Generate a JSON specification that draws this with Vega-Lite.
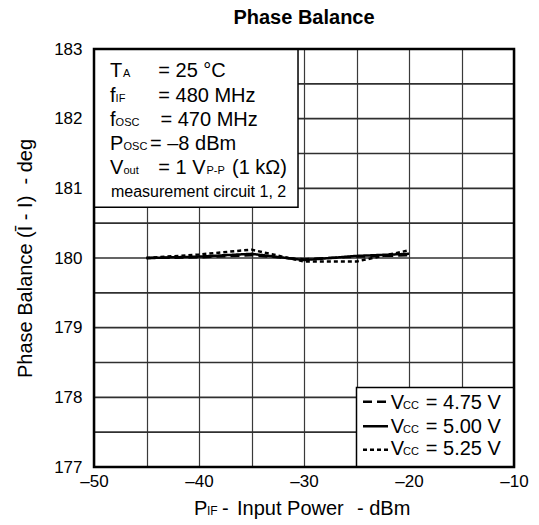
{
  "$schema": "https://vega.github.io/schema/vega-lite/v6.json",
  "width": 420,
  "height": 418,
  "autosize": {"type": "none"},
  "padding": {"left": 94, "top": 49, "right": 25, "bottom": 58},
  "title": {
    "text": "Phase Balance",
    "font": "Liberation Sans",
    "fontSize": 20,
    "fontWeight": "bold",
    "anchor": "middle",
    "offset": 12,
    "color": "black"
  },
  "config": {
    "view": {"stroke": null},
    "font": "Liberation Sans",
    "text": {"font": "Liberation Sans", "color": "black"},
    "axis": {
      "gridColor": "#3a3a3a",
      "gridWidth": 1.2,
      "gridOpacity": 1,
      "ticks": false,
      "domain": false,
      "labelFont": "Liberation Sans",
      "labelFontSize": 17,
      "labelColor": "black",
      "labelFlush": false,
      "labelOverlap": false,
      "titleFont": "Liberation Sans",
      "titleFontWeight": "normal",
      "titleColor": "black"
    }
  },
  "datasets": {
    "yGrid": [
      {"from": -50, "to": -10, "phase": 177.5},
      {"from": -50, "to": -10, "phase": 178},
      {"from": -50, "to": -10, "phase": 178.5},
      {"from": -50, "to": -10, "phase": 179},
      {"from": -50, "to": -10, "phase": 179.5},
      {"from": -50, "to": -10, "phase": 180},
      {"from": -50, "to": -10, "phase": 180.5},
      {"from": -50, "to": -10, "phase": 181},
      {"from": -50, "to": -10, "phase": 181.5},
      {"from": -50, "to": -10, "phase": 182},
      {"from": -50, "to": -10, "phase": 182.5}
    ],
    "curves": [
      {"power": -45, "phase": 180.00, "vcc": "4.75"},
      {"power": -40, "phase": 180.01, "vcc": "4.75"},
      {"power": -35, "phase": 180.04, "vcc": "4.75"},
      {"power": -30, "phase": 179.98, "vcc": "4.75"},
      {"power": -25, "phase": 180.02, "vcc": "4.75"},
      {"power": -20, "phase": 180.04, "vcc": "4.75"},
      {"power": -45, "phase": 180.00, "vcc": "5.00"},
      {"power": -40, "phase": 180.02, "vcc": "5.00"},
      {"power": -35, "phase": 180.06, "vcc": "5.00"},
      {"power": -30, "phase": 179.97, "vcc": "5.00"},
      {"power": -25, "phase": 180.03, "vcc": "5.00"},
      {"power": -20, "phase": 180.06, "vcc": "5.00"},
      {"power": -45, "phase": 180.00, "vcc": "5.25"},
      {"power": -40, "phase": 180.05, "vcc": "5.25"},
      {"power": -35, "phase": 180.12, "vcc": "5.25"},
      {"power": -30, "phase": 179.95, "vcc": "5.25"},
      {"power": -25, "phase": 179.95, "vcc": "5.25"},
      {"power": -20, "phase": 180.11, "vcc": "5.25"}
    ],
    "conditionsBox": [{"x1": -50, "x2": -30.57, "y1": 180.73, "y2": 183}],
    "conditionsMain": [
      {"x": -48.476, "y": 182.598, "text": "T"},
      {"x": -43.876, "y": 182.598, "text": "= 25 °C"},
      {"x": -48.476, "y": 182.244, "text": "f"},
      {"x": -43.876, "y": 182.244, "text": "= 480 MHz"},
      {"x": -48.476, "y": 181.895, "text": "f"},
      {"x": -43.667, "y": 181.895, "text": "= 470 MHz"},
      {"x": -48.476, "y": 181.551, "text": "P"},
      {"x": -44.667, "y": 181.551, "text": "= –8 dBm"},
      {"x": -48.476, "y": 181.207, "text": "V"},
      {"x": -43.876, "y": 181.207, "text": "= 1 V"},
      {"x": -36.857, "y": 181.207, "text": "(1 kΩ)"}
    ],
    "conditionsSub": [
      {"x": -47.24, "y": 182.598, "text": "A"},
      {"x": -47.943, "y": 182.244, "text": "IF"},
      {"x": -47.943, "y": 181.895, "text": "OSC"},
      {"x": -47.190, "y": 181.551, "text": "OSC"},
      {"x": -47.190, "y": 181.207, "text": "out"},
      {"x": -39.286, "y": 181.207, "text": "P-P"}
    ],
    "conditionsNote": [
      {"x": -48.381, "y": 180.877, "text": "measurement circuit 1, 2"}
    ],
    "legendBox": [{"x1": -25, "x2": -10, "y1": 177, "y2": 178.14}],
    "legendLines": [
      {"x1": -24.38, "x2": -22.0, "y": 177.935, "vcc": "4.75"},
      {"x1": -24.38, "x2": -22.0, "y": 177.584, "vcc": "5.00"},
      {"x1": -24.38, "x2": -22.0, "y": 177.247, "vcc": "5.25"}
    ],
    "legendMain": [
      {"x": -21.74, "y": 177.835, "text": "V"},
      {"x": -18.40, "y": 177.835, "text": "= 4.75 V"},
      {"x": -21.74, "y": 177.491, "text": "V"},
      {"x": -18.40, "y": 177.491, "text": "= 5.00 V"},
      {"x": -21.74, "y": 177.175, "text": "V"},
      {"x": -18.40, "y": 177.175, "text": "= 5.25 V"}
    ],
    "legendSub": [
      {"x": -20.57, "y": 177.835, "text": "CC"},
      {"x": -20.57, "y": 177.491, "text": "CC"},
      {"x": -20.57, "y": 177.175, "text": "CC"}
    ],
    "xTitleMain": [
      {"x": -40.48, "y": 176.314, "text": "P"},
      {"x": -37.81, "y": 176.314, "text": "-"},
      {"x": -36.38, "y": 176.314, "text": "Input Power"},
      {"x": -24.95, "y": 176.314, "text": "- dBm"}
    ],
    "xTitleSub": [
      {"x": -39.24, "y": 176.314, "text": "IF"}
    ],
    "frame": [{"x1": -50, "x2": -10, "y1": 177, "y2": 183}]
  },
  "layer": [
    {
      "data": {"name": "yGrid"},
      "mark": {"type": "rule", "color": "#303030", "strokeWidth": 1.6},
      "encoding": {
        "x": {"field": "from", "type": "quantitative"},
        "x2": {"field": "to"},
        "y": {"field": "phase", "type": "quantitative"}
      }
    },
    {
      "data": {"name": "curves"},
      "mark": {"type": "line", "color": "black", "strokeWidth": 2.5},
      "encoding": {
        "x": {
          "field": "power",
          "type": "quantitative",
          "scale": {"domain": [-50, -10], "nice": false, "zero": false},
          "axis": {
            "values": [-50, -45, -40, -35, -30, -25, -20, -15, -10],
            "labelExpr": "datum.value % 10 === 0 ? '–' + abs(datum.value) : ''",
            "title": null,
            "grid": true,
            "labelPadding": 6
          }
        },
        "y": {
          "field": "phase",
          "type": "quantitative",
          "scale": {"domain": [177, 183], "nice": false, "zero": false},
          "axis": {
            "values": [177, 178, 179, 180, 181, 182, 183],
            "format": "d",
            "title": "Phase Balance (Ī - I)\u00a0 - deg",
            "titleFontSize": 20,
            "titlePadding": 18,
            "grid": false,
            "labelPadding": 12
          }
        },
        "strokeDash": {
          "field": "vcc",
          "type": "nominal",
          "scale": {"domain": ["4.75", "5.00", "5.25"], "range": [[9, 5], [1, 0], [4, 3]]},
          "legend": null
        }
      }
    },
    {
      "data": {"name": "conditionsBox"},
      "mark": {"type": "rect", "fill": "white", "stroke": "black", "strokeWidth": 1.5},
      "encoding": {
        "x": {"field": "x1", "type": "quantitative"},
        "x2": {"field": "x2"},
        "y": {"field": "y1", "type": "quantitative"},
        "y2": {"field": "y2"}
      }
    },
    {
      "data": {"name": "conditionsMain"},
      "mark": {"type": "text", "align": "left", "baseline": "alphabetic", "fontSize": 20, "color": "black"},
      "encoding": {
        "x": {"field": "x", "type": "quantitative"},
        "y": {"field": "y", "type": "quantitative"},
        "text": {"field": "text"}
      }
    },
    {
      "data": {"name": "conditionsSub"},
      "mark": {"type": "text", "align": "left", "baseline": "alphabetic", "fontSize": 11, "color": "black"},
      "encoding": {
        "x": {"field": "x", "type": "quantitative"},
        "y": {"field": "y", "type": "quantitative"},
        "text": {"field": "text"}
      }
    },
    {
      "data": {"name": "conditionsNote"},
      "mark": {"type": "text", "align": "left", "baseline": "alphabetic", "fontSize": 16, "color": "black"},
      "encoding": {
        "x": {"field": "x", "type": "quantitative"},
        "y": {"field": "y", "type": "quantitative"},
        "text": {"field": "text"}
      }
    },
    {
      "data": {"name": "legendBox"},
      "mark": {"type": "rect", "fill": "white", "stroke": "black", "strokeWidth": 1.5},
      "encoding": {
        "x": {"field": "x1", "type": "quantitative"},
        "x2": {"field": "x2"},
        "y": {"field": "y1", "type": "quantitative"},
        "y2": {"field": "y2"}
      }
    },
    {
      "data": {"name": "legendLines"},
      "mark": {"type": "rule", "color": "black", "strokeWidth": 2.5},
      "encoding": {
        "x": {"field": "x1", "type": "quantitative"},
        "x2": {"field": "x2"},
        "y": {"field": "y", "type": "quantitative"},
        "strokeDash": {
          "field": "vcc",
          "type": "nominal",
          "scale": {"domain": ["4.75", "5.00", "5.25"], "range": [[9, 5], [1, 0], [4, 3]]},
          "legend": null
        }
      }
    },
    {
      "data": {"name": "legendMain"},
      "mark": {"type": "text", "align": "left", "baseline": "alphabetic", "fontSize": 20, "color": "black"},
      "encoding": {
        "x": {"field": "x", "type": "quantitative"},
        "y": {"field": "y", "type": "quantitative"},
        "text": {"field": "text"}
      }
    },
    {
      "data": {"name": "legendSub"},
      "mark": {"type": "text", "align": "left", "baseline": "alphabetic", "fontSize": 11, "color": "black"},
      "encoding": {
        "x": {"field": "x", "type": "quantitative"},
        "y": {"field": "y", "type": "quantitative"},
        "text": {"field": "text"}
      }
    },
    {
      "data": {"name": "xTitleMain"},
      "mark": {"type": "text", "align": "left", "baseline": "alphabetic", "fontSize": 20, "color": "black"},
      "encoding": {
        "x": {"field": "x", "type": "quantitative"},
        "y": {"field": "y", "type": "quantitative"},
        "text": {"field": "text"}
      }
    },
    {
      "data": {"name": "xTitleSub"},
      "mark": {"type": "text", "align": "left", "baseline": "alphabetic", "fontSize": 12, "color": "black"},
      "encoding": {
        "x": {"field": "x", "type": "quantitative"},
        "y": {"field": "y", "type": "quantitative"},
        "text": {"field": "text"}
      }
    },
    {
      "data": {"name": "frame"},
      "mark": {"type": "rect", "fill": null, "fillOpacity": 0, "stroke": "black", "strokeWidth": 2.5},
      "encoding": {
        "x": {"field": "x1", "type": "quantitative"},
        "x2": {"field": "x2"},
        "y": {"field": "y1", "type": "quantitative"},
        "y2": {"field": "y2"}
      }
    }
  ]
}
